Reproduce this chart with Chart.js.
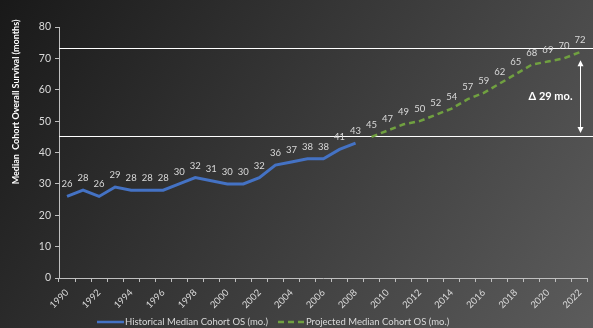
<!DOCTYPE html>
<html lang="en">
<head>
<meta charset="UTF-8">
<title>Median Cohort Overall Survival</title>
<script src="https://cdn.jsdelivr.net/npm/chart.js@4.4.0/dist/chart.umd.min.js"></script>
<style>
  html, body { margin: 0; padding: 0; }
  body { width: 593px; height: 328px; overflow: hidden;
         background: linear-gradient(122deg, #191919 0%, #5c5c5c 100%); }
  canvas { display: block; }
</style>
</head>
<body>
<canvas id="chart" width="593" height="328"></canvas>
<script>
// years on the category axis
const years = [];
for (let y = 1990; y <= 2022; y++) years.push(String(y));

// historical medians 1990-2008, projected 2009-2022 (months)
const historical = [26, 28, 26, 29, 28, 28, 28, 30, 32, 31, 30, 30, 32, 36, 37, 38, 38, 41, 43];
const projected = [45, 47, 49, 50, 52, 54, 57, 59, 62, 65, 68, 69, 70, 72];

const yTicks = { min: 0, max: 80, step: 10 };
const refLines = [73.3, 45.4];
const deltaArrow = { from: 69.4, to: 46.2, label: '\u0394 29 mo.' };
const yTitle = 'Median  Cohort Overall Survival (months)';

const histSeries = years.map((_, i) => i < historical.length ? historical[i] : null);
const projSeries = years.map((_, i) => i >= historical.length ? projected[i - historical.length] : null);

const FONT = 'Lato, "Open Sans", sans-serif';
const TEXT = '#d9d9d9';

// value labels above each point
const pointLabels = {
  id: 'pointLabels',
  afterDatasetsDraw(chart) {
    const ctx = chart.ctx;
    ctx.save();
    ctx.font = '9.5px ' + FONT;
    ctx.fillStyle = TEXT;
    ctx.textAlign = 'center';
    ctx.textBaseline = 'middle';
    chart.data.datasets.forEach((ds, di) => {
      chart.getDatasetMeta(di).data.forEach((pt, i) => {
        const v = ds.data[i];
        if (v == null) return;
        ctx.fillText(String(v), pt.x, pt.y - 12);
      });
    });
    ctx.restore();
  }
};

// reference lines, delta arrow, axis title and legend
const extras = {
  id: 'extras',
  beforeDatasetsDraw(chart) {
    const { ctx, chartArea, scales } = chart;
    ctx.save();
    ctx.strokeStyle = '#ffffff';
    ctx.lineWidth = 1;
    refLines.forEach(v => {
      const y = Math.round(scales.y.getPixelForValue(v)) + 0.5;
      ctx.beginPath();
      ctx.moveTo(chartArea.left, y);
      ctx.lineTo(chart.width, y);
      ctx.stroke();
    });
    ctx.restore();
  },
  afterDraw(chart) {
    const { ctx, scales } = chart;
    ctx.save();

    // double-headed arrow at the last category
    const ax = Math.round(scales.x.getPixelForValue(years.length - 1)) + 0.5;
    const y1 = scales.y.getPixelForValue(deltaArrow.from);
    const y2 = scales.y.getPixelForValue(deltaArrow.to);
    ctx.strokeStyle = '#ffffff';
    ctx.fillStyle = '#ffffff';
    ctx.lineWidth = 1;
    ctx.beginPath();
    ctx.moveTo(ax, y1 + 4);
    ctx.lineTo(ax, y2 - 4);
    ctx.stroke();
    ctx.beginPath();
    ctx.moveTo(ax, y1); ctx.lineTo(ax - 3, y1 + 6); ctx.lineTo(ax + 3, y1 + 6); ctx.closePath();
    ctx.fill();
    ctx.beginPath();
    ctx.moveTo(ax, y2); ctx.lineTo(ax - 3, y2 - 6); ctx.lineTo(ax + 3, y2 - 6); ctx.closePath();
    ctx.fill();

    ctx.font = 'bold 11px ' + FONT;
    ctx.textAlign = 'right';
    ctx.textBaseline = 'middle';
    ctx.fillText(deltaArrow.label, ax - 8, (y1 + y2) / 2);

    // rotated y axis title
    ctx.save();
    ctx.translate(16, 102);
    ctx.rotate(-Math.PI / 2);
    ctx.font = 'bold 9px ' + FONT;
    ctx.textAlign = 'center';
    ctx.textBaseline = 'middle';
    ctx.fillText(yTitle, 0, 0);
    ctx.restore();

    // legend
    ctx.font = '9.5px ' + FONT;
    ctx.textBaseline = 'middle';
    ctx.textAlign = 'left';
    const ly = 322;
    const items = [{ ds: chart.data.datasets[0], x: 97 }, { ds: chart.data.datasets[1], x: 278 }];
    items.forEach(it => {
      ctx.strokeStyle = it.ds.borderColor;
      ctx.lineWidth = 2.5;
      ctx.setLineDash(it.ds.borderDash || []);
      ctx.beginPath();
      ctx.moveTo(it.x, ly);
      ctx.lineTo(it.x + 27, ly);
      ctx.stroke();
      ctx.setLineDash([]);
      ctx.fillStyle = TEXT;
      ctx.fillText(it.ds.label, it.x + 28, ly);
    });
    ctx.restore();
  }
};

new Chart(document.getElementById('chart'), {
  type: 'line',
  data: {
    labels: years,
    datasets: [
      { label: 'Historical Median Cohort OS (mo.)', data: histSeries, borderColor: '#4472c4',
        borderWidth: 3, pointRadius: 0, tension: 0, spanGaps: false },
      { label: 'Projected Median Cohort OS (mo.)', data: projSeries, borderColor: '#70a040',
        borderWidth: 2.5, borderDash: [6, 4], pointRadius: 0, tension: 0, spanGaps: false }
    ]
  },
  options: {
    responsive: false,
    animation: false,
    layout: { padding: { left: 0, right: 0, top: 27, bottom: 0 } },
    plugins: { legend: { display: false }, tooltip: { enabled: false } },
    scales: {
      x: {
        offset: true,
        grid: { offset: true, drawOnChartArea: false, tickLength: 4, color: '#bfbfbf' },
        border: { color: '#bfbfbf' },
        ticks: {
          autoSkip: false, maxRotation: 45, minRotation: 45, padding: 5,
          color: TEXT, font: { family: FONT, size: 9.5 },
          callback: (v, i) => i % 2 === 0 ? years[i] : ''
        },
        afterFit: s => { s.height = 50; }
      },
      y: {
        min: yTicks.min, max: yTicks.max,
        grid: { drawOnChartArea: false, tickLength: 4, color: '#bfbfbf' },
        border: { color: '#bfbfbf' },
        ticks: { stepSize: yTicks.step, padding: 4, color: TEXT, font: { family: FONT, size: 10.5 } },
        afterFit: s => { s.width = 59; }
      }
    }
  },
  plugins: [extras, pointLabels]
});
</script>
</body>
</html>
